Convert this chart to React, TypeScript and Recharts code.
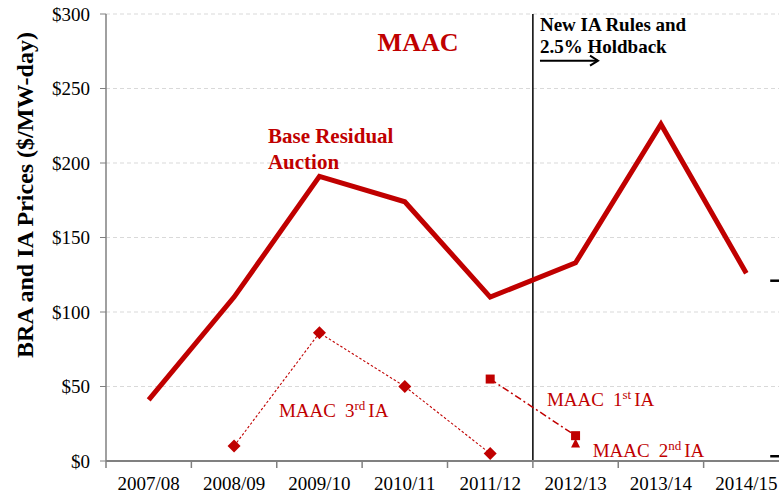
import React from 'react';
import { LineChart, Line, XAxis, YAxis, CartesianGrid, ReferenceLine, ReferenceDot } from 'recharts';

const categories = ['2007/08', '2008/09', '2009/10', '2010/11', '2011/12', '2012/13', '2013/14', '2014/15'];
const braPrices = [41, 110, 191, 174, 110, 133, 226, 126];
const maac3rdIA: (number | null)[] = [null, 10, 86, 50, 5, null, null, null];
const maac1stIA: (number | null)[] = [null, null, null, null, 55, 17, null, null];
const maac2ndIA: (number | null)[] = [null, null, null, null, null, 12, null, null];
const yTicks = [0, 50, 100, 150, 200, 250, 300];
const xTicks = categories.map((_, i) => i + 0.5);

const data = categories.map((c, i) => ({
  x: i + 0.5,
  cat: c,
  bra: braPrices[i],
  ia3: maac3rdIA[i],
  ia1: maac1stIA[i],
  ia2: maac2ndIA[i],
}));

const RED = '#C00000';
const FONT = '"Liberation Serif", "Times New Roman", serif';
const CHART_W = 800;
const CHART_H = 499;
const MARGIN = { top: 14, right: 11, bottom: 8, left: 0 };
const Y_W = 106;
const PLOT_W = CHART_W - MARGIN.left - MARGIN.right - Y_W;
const HALF_BAND = PLOT_W / categories.length / 2;

const XTick = (props: any) => {
  const { x, y, payload, index } = props;
  const label = categories[Math.round(payload.value - 0.5)];
  return (
    <g>
      <line x1={x - HALF_BAND} x2={x - HALF_BAND} y1={y} y2={y + 7} stroke="#808080" strokeWidth={1.5} />
      {index === categories.length - 1 && (
        <line x1={x + HALF_BAND} x2={x + HALF_BAND} y1={y} y2={y + 7} stroke="#808080" strokeWidth={1.5} />
      )}
      <text x={x} y={y + 29} textAnchor="middle" fontFamily={FONT} fontSize={19} fill="#000">
        {label}
      </text>
    </g>
  );
};

const Diamond = (props: any) => {
  const { cx, cy, value, index } = props;
  if (value == null || cx == null || cy == null) return <g key={`d${index}`} />;
  const s = 6.5;
  return <path key={`d${index}`} d={`M${cx},${cy - s}L${cx + s},${cy}L${cx},${cy + s}L${cx - s},${cy}Z`} fill={RED} />;
};

const Square = (props: any) => {
  const { cx, cy, value, index } = props;
  if (value == null || cx == null || cy == null) return <g key={`s${index}`} />;
  const s = 4.5;
  return <rect key={`s${index}`} x={cx - s} y={cy - s} width={2 * s} height={2 * s} fill={RED} />;
};

const Triangle = (props: any) => {
  const { cx, cy, value, index } = props;
  if (value == null || cx == null || cy == null) return <g key={`t${index}`} />;
  const s = 4.5;
  return <path key={`t${index}`} d={`M${cx},${cy - s}L${cx + s},${cy + s}L${cx - s},${cy + s}Z`} fill={RED} />;
};

const textLabel = (lines: string[], opts: { size: number; bold?: boolean; color: string; anchor?: string; lineH?: number }) =>
  (p: any) => {
    const vb = p.viewBox || {};
    return (
      <text
        x={vb.x}
        y={vb.y}
        fontFamily={FONT}
        fontSize={opts.size}
        fontWeight={opts.bold ? 'bold' : 'normal'}
        fill={opts.color}
        textAnchor={opts.anchor || 'start'}
      >
        {lines.map((l, i) => (
          <tspan key={i} x={vb.x} dy={i === 0 ? 0 : opts.lineH || opts.size * 1.2}>
            {l}
          </tspan>
        ))}
      </text>
    );
  };

const supLabel = (main: string, sup: string, tail: string) => (p: any) => {
  const vb = p.viewBox || {};
  return (
    <text x={vb.x} y={vb.y} fontFamily={FONT} fontSize={19} fill={RED}>
      <tspan>{main}</tspan>
      <tspan dx={9}>{sup[0]}</tspan>
      <tspan dy={-7} fontSize={13}>{sup.slice(1)}</tspan>
      <tspan dy={7} dx={3}>{tail}</tspan>
    </text>
  );
};

const arrowHead = (p: any) => {
  const vb = p.viewBox || {};
  const x = vb.x;
  const y = vb.y;
  return <path d={`M${x - 8},${y - 5}L${x},${y}L${x - 8},${y + 5}`} fill="none" stroke="#000" strokeWidth={2} />;
};

const YLabel = () => (
  <text
    x={24.5}
    y={195}
    transform="rotate(-90, 24.5, 195)"
    textAnchor="middle"
    dominantBaseline="central"
    fontFamily={FONT}
    fontSize={24}
    fontWeight="bold"
    fill="#000"
  >
    BRA and IA Prices ($/MW-day)
  </text>
);

export default function App() {
  return (
    <div style={{ position: 'fixed', left: 0, top: 0, width: 779, height: 499, overflow: 'hidden', background: '#fff' }}>
      <LineChart width={CHART_W} height={CHART_H} data={data} margin={MARGIN}>
        <CartesianGrid horizontal vertical={false} stroke="#d9d9d9" strokeDasharray="4 3" />
        <XAxis
          dataKey="x"
          type="number"
          domain={[0, categories.length]}
          ticks={xTicks}
          interval={0}
          tick={<XTick />}
          tickLine={false}
          tickSize={0}
          tickMargin={0}
          height={30}
          axisLine={{ stroke: '#808080', strokeWidth: 2 }}
        />
        <YAxis
          type="number"
          domain={[0, 300]}
          ticks={yTicks}
          width={Y_W}
          tickFormatter={(v: number) => `$${v}`}
          tick={{ fontFamily: FONT, fontSize: 19, fill: '#000' }}
          tickSize={6}
          tickMargin={10}
          tickLine={{ stroke: '#808080' }}
          axisLine={{ stroke: '#808080', strokeWidth: 1.5 }}
          label={<YLabel />}
        />
        <ReferenceLine x={5} stroke="#000" strokeWidth={1.5} />
        <ReferenceLine segment={[{ x: 7.78, y: 121 }, { x: 8, y: 121 }]} stroke="#000" strokeWidth={2.5} ifOverflow="visible" />
        <ReferenceLine segment={[{ x: 7.78, y: 3.2 }, { x: 8, y: 3.2 }]} stroke="#000" strokeWidth={2.5} ifOverflow="visible" />
        <ReferenceLine segment={[{ x: 5.083, y: 268.7 }, { x: 5.763, y: 268.7 }]} stroke="#000" strokeWidth={2} />
        <ReferenceDot x={5.763} y={268.7} r={0} ifOverflow="visible" label={arrowHead} />
        <Line
          dataKey="ia3"
          type="linear"
          stroke={RED}
          strokeWidth={1.1}
          strokeDasharray="2.5 2"
          dot={Diamond}
          activeDot={false}
          isAnimationActive={false}
        />
        <Line
          dataKey="ia1"
          type="linear"
          stroke={RED}
          strokeWidth={1.5}
          strokeDasharray="7 3 2 3"
          dot={Square}
          activeDot={false}
          isAnimationActive={false}
        />
        <Line
          dataKey="ia2"
          type="linear"
          stroke="none"
          strokeWidth={0}
          dot={Triangle}
          activeDot={false}
          isAnimationActive={false}
        />
        <Line
          dataKey="bra"
          type="linear"
          stroke={RED}
          strokeWidth={5}
          dot={false}
          activeDot={false}
          isAnimationActive={false}
        />
        <ReferenceDot x={3.655} y={275.2} r={0} ifOverflow="visible"
          label={textLabel(['MAAC'], { size: 26, bold: true, color: RED, anchor: 'middle' })} />
        <ReferenceDot x={1.897} y={213.4} r={0} ifOverflow="visible"
          label={textLabel(['Base Residual', 'Auction'], { size: 21, bold: true, color: RED, lineH: 26 })} />
        <ReferenceDot x={5.083} y={288.6} r={0} ifOverflow="visible"
          label={textLabel(['New IA Rules and', '2.5% Holdback'], { size: 19, bold: true, color: '#000', lineH: 22 })} />
        <ReferenceDot x={2.026} y={29.5} r={0} ifOverflow="visible" label={supLabel('MAAC', '3rd', 'IA')} />
        <ReferenceDot x={5.165} y={37.1} r={0} ifOverflow="visible" label={supLabel('MAAC', '1st', 'IA')} />
        <ReferenceDot x={5.70} y={2.9} r={0} ifOverflow="visible" label={supLabel('MAAC', '2nd', 'IA')} />
      </LineChart>
    </div>
  );
}
